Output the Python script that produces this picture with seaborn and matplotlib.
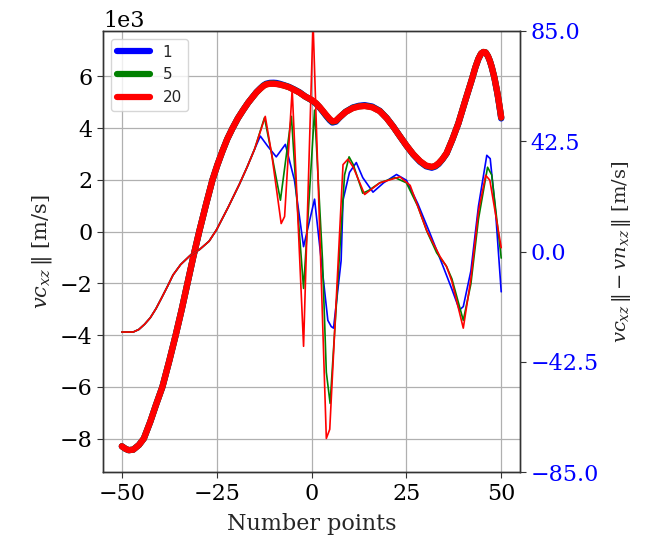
import matplotlib
matplotlib.use("Agg")
import matplotlib.pyplot as plt
import seaborn as sns
import pandas as pd

# ---- thick curves (left axis), values in m/s ----
thick_x = [-50, -49, -48.2, -47, -45.5, -44.2, -42.5, -41, -39.3, -37.5, -35.8, -34.2, -32.7,
           -31.2, -29.6, -27.8, -26.1, -24.8, -23.5, -22.2, -20.8, -19.4, -18, -16.7, -15.5,
           -14.5, -13.5, -12.7, -12, -11, -10, -9.2, -8.5, -7.3, -6, -4.6, -3.2, -1.7, -0.1,
           1.2, 2.1, 3, 3.9, 4.8, 5.5, 6.4, 7.4, 9, 10.9, 12.5, 14, 16, 18, 19.8, 21.5, 23.2,
           25, 26.8, 28.6, 30.2, 31.7, 32.6, 33.5, 34.5, 35.6, 37.1, 38.7, 40.5, 42.2, 43.2,
           44, 44.7, 45.3, 45.9, 46.5, 47, 47.5, 48.2, 49, 49.5, 50]
thick_20 = [-8300, -8400, -8450, -8430, -8250, -8000, -7350, -6700, -6000, -5000, -4000, -3000, -2000,
            -1000, 0, 1050, 2000, 2580, 3100, 3580, 4000, 4380, 4700, 4980, 5200,
            5380, 5520, 5620, 5680, 5710, 5710, 5700, 5680, 5640, 5580, 5480, 5370, 5220, 5100,
            4960, 4820, 4660, 4500, 4350, 4260, 4280, 4420, 4620, 4770, 4830, 4850, 4800, 4650, 4380, 4060, 3700,
            3330, 2990, 2720, 2550, 2500, 2540, 2640, 2800, 3030, 3550, 4180, 5050, 5850, 6350,
            6680, 6880, 6940, 6920, 6780, 6600, 6360, 5950, 5350, 4900, 4410]
thick_5 = [-8300, -8400, -8450, -8430, -8250, -8000, -7350, -6700, -6000, -5000, -4000, -3000, -2000,
           -1000, 0, 1050, 2000, 2580, 3100, 3580, 4000, 4380, 4700, 4980, 5200,
           5380, 5525, 5630, 5690, 5720, 5720, 5710, 5690, 5645, 5585, 5485, 5375, 5220, 5090,
           4950, 4810, 4650, 4480, 4330, 4240, 4270, 4415, 4625, 4780, 4840, 4860, 4810, 4655, 4385, 4060, 3700,
           3325, 2985, 2710, 2540, 2490, 2530, 2630, 2795, 3025, 3550, 4180, 5050, 5850, 6350,
           6680, 6880, 6940, 6920, 6780, 6600, 6360, 5950, 5345, 4890, 4400]
thick_1 = [-8300, -8400, -8450, -8430, -8250, -8000, -7350, -6700, -6000, -5000, -4000, -3000, -2000,
           -1000, 0, 1050, 2000, 2580, 3100, 3580, 4000, 4380, 4700, 4980, 5205,
           5390, 5535, 5645, 5710, 5745, 5750, 5740, 5715, 5660, 5595, 5495, 5385, 5225, 5085,
           4940, 4795, 4630, 4460, 4300, 4210, 4245, 4405, 4630, 4795, 4860, 4885, 4830, 4665, 4390, 4065, 3700,
           3320, 2975, 2695, 2520, 2465, 2510, 2610, 2785, 3015, 3545, 4175, 5045, 5845, 6345,
           6675, 6875, 6935, 6915, 6775, 6595, 6355, 5945, 5330, 4870, 4370]

# ---- thin curves (right axis), values in m/s ----
common_x = [-50, -47, -45.5, -44, -42.5, -41, -39.5, -38, -36.5, -34.5, -32, -29.5, -27, -25,
            -22, -19, -17, -15]
common_v = [-31.0, -31.0, -30.0, -28.0, -25.5, -22.0, -17.8, -13.5, -9.0, -5.0, -1.5, 0.8, 4.0,
            8.5, 17.0, 26.0, 32.5, 39.5]

thin1_x = common_x + [-13.5, -11.5, -9.3, -6.9, -4.5, -2.1, 0.8, 4.3, 5.2, 5.8, 7.8, 8.3,
                      10, 11.8, 13.5, 16.2, 19, 22.4, 25, 28, 31.2, 34.7, 37, 39, 40,
                      42, 44, 46.2, 47.1, 48.5, 50]
thin1_v = common_v + [44.5, 40.5, 36.5, 41.3, 27.5, 1.9, 20.2, -26.5, -28.9, -29.5, -3.5, 19.8,
                      30.5, 34.3, 28.5, 22.9, 26.5, 29.7, 27.5, 18.5, 7.1, -5.8, -14.5, -22.5, -21.2,
                      -7.5, 17.5, 37.1, 35.8, 15.5, -15.5]

thin5_x = common_x + [-12.4, -10.5, -8.2, -5.3, -4, -2.1, 0.8, 2.9, 3.9, 4.9, 8.7, 9.9,
                      11, 13.5, 15, 18, 22, 25, 28, 30.5, 33, 35.5, 37, 40, 42, 44,
                      46.4, 47.5, 50]
thin5_v = common_v + [51.6, 37.5, 19.8, 52.1, 22.5, -14.2, 54.5, -3.5, -46.5, -58.5, 29.5, 36.5,
                      33.5, 22.5, 23.5, 26.5, 28.5, 26.5, 17.5, 7.5, -0.5, -5.5, -10.5, -26.5,
                      -12.5, 12.5, 32.5, 29.5, -2.5]

thin20_x = common_x + [-12.2, -10.5, -8, -7.1, -5.1, -2.1, 0.4, 3.9, 4.8, 8.3, 9.6, 11,
                       14, 18, 23.3, 26, 30.3, 33.9, 35.6, 37, 40, 42, 44, 45.9, 47, 50]
thin20_v = common_v + [52.1, 37.5, 10.8, 13.5, 62.5, -36.5, 88.5, -72.0, -68.5, 33.5, 35.6, 32.5,
                       22.0, 26.5, 28.8, 25.5, 8.3, -2.0, -5.8, -11.5, -29.5, -10.5, 15.5, 29.4,
                       27.5, 1.5]

labels = ["1", "5", "20"]
colors = ["blue", "green", "red"]

x_ticks = [-50, -25, 0, 25, 50]
left_ticks = [-8000, -6000, -4000, -2000, 0, 2000, 4000, 6000]
right_ticks = [-85.0, -42.5, 0.0, 42.5, 85.0]

sns.set_style("ticks")
plt.rcParams["font.family"] = ["DejaVu Serif"]
plt.rcParams["mathtext.fontset"] = "dejavuserif"

fig = plt.figure(figsize=(6.47, 5.39), dpi=100)
ax = fig.add_axes([0.159, 0.124, 0.645, 0.8185])
ax2 = ax.twinx()

thick_sets = [thick_1, thick_5, thick_20]
for lab, col, ys in zip(labels, colors, thick_sets):
    df = pd.DataFrame({"x": thick_x, "y": ys})
    sns.lineplot(data=df, x="x", y="y", ax=ax, color=col, linewidth=4.5,
                 label=lab, sort=False, estimator=None,
                 solid_joinstyle="round", solid_capstyle="round")

thin_sets = [(thin1_x, thin1_v), (thin5_x, thin5_v), (thin20_x, thin20_v)]
for col, (xs, ys) in zip(colors, thin_sets):
    df = pd.DataFrame({"x": xs, "y": ys})
    sns.lineplot(data=df, x="x", y="y", ax=ax2, color=col, linewidth=1.2,
                 legend=False, sort=False, estimator=None)

ax.set_xlim(-55, 55)
ax.set_ylim(-9300, 7750)
ax2.set_ylim(-85, 85)
ax.set_xticks(x_ticks)
ax.set_yticks(left_ticks)
ax2.set_yticks(right_ticks)
ax.ticklabel_format(axis="y", style="sci", scilimits=(0, 0))
ax.grid(True, color="#b0b0b0", linewidth=0.9)
ax2.grid(False)

for a in (ax, ax2):
    for s in a.spines.values():
        s.set_visible(True)
        s.set_color("#333333")
        s.set_linewidth(1.0)
    a.tick_params(labelsize=16, length=4, width=0.8, colors="#333333", labelcolor="black")
ax2.tick_params(axis="y", labelcolor="blue")
ax.yaxis.get_offset_text().set_fontsize(16)

ax.set_xlabel("Number points", fontsize=16, labelpad=6)
ax.set_ylabel(r"$vc_{xz}\,\|$ [m/s]", fontsize=15)
ax2.set_ylabel(r"$vc_{xz}\,\| - vn_{xz}\,\|$ [m/s]", fontsize=14, labelpad=8)

leg = ax.legend(loc="upper left", prop={"family": "DejaVu Sans", "size": 11},
                handlelength=2.2, framealpha=0.8)

fig.savefig("out.png", dpi=100)
